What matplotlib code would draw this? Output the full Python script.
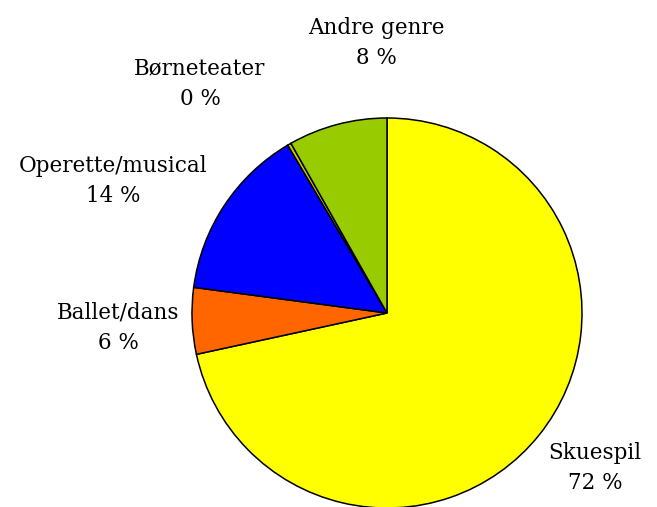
import matplotlib.pyplot as plt

# genre shares (percent), clockwise from 12 o'clock
genres = ["Skuespil", "Ballet/dans", "Operette/musical", "Børneteater", "Andre genre"]
shares = [71.6, 5.5, 14.4, 0.3, 8.2]
share_labels = ["72 %", "6 %", "14 %", "0 %", "8 %"]
colors = ["#FFFF00", "#FF6600", "#0000FF", "#CCCC00", "#99CC00"]

# label centres in pixel coordinates of the image (x, y from top)
label_pos = [(595, 468), (118, 328), (113, 181), (200, 84), (376, 43)]

W, H = 657, 507
cx, cy, r = 387, 313, 195

fig = plt.figure(figsize=(W / 100, H / 100), dpi=100)
ax = fig.add_axes([0, 0, 1, 1])
ax.pie(shares, colors=colors, startangle=90, counterclock=False,
       center=(cx, H - cy), radius=r,
       wedgeprops=dict(edgecolor="black", linewidth=1.1))
ax.set_xlim(0, W)
ax.set_ylim(0, H)
ax.set_aspect("equal")
ax.axis("off")

for name, pct, (px, py) in zip(genres, share_labels, label_pos):
    ax.text(px, H - py, name + "\n" + pct, ha="center", va="center",
            fontsize=15.5, family="DejaVu Serif", linespacing=1.5)

fig.savefig("out.png", dpi=100)
